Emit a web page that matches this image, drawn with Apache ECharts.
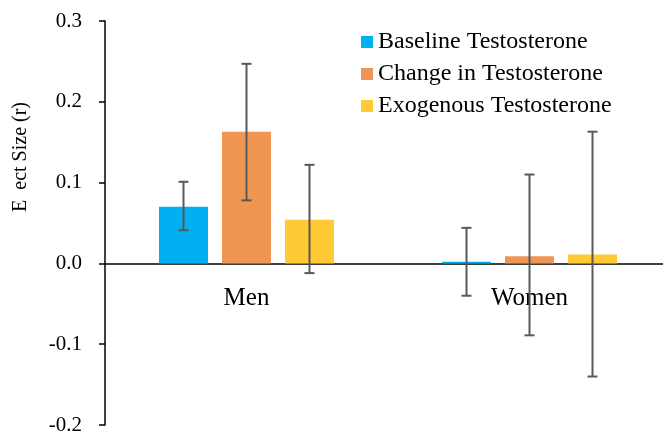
<!DOCTYPE html>
<html>
<head>
<meta charset="utf-8">
<script src="https://cdn.jsdelivr.net/npm/echarts@6/dist/echarts.min.js"></script>
<style>html,body{margin:0;padding:0;background:#fff}#c{width:663px;height:435px}</style>
</head>
<body>
<div id="c"></div>
<script>
var categories = ['Men', 'Women'];
var seriesNames = ['Baseline Testosterone', 'Change in Testosterone', 'Exogenous Testosterone'];
var baseline = [0.070, 0.002];
var change = [0.163, 0.009];
var exogenous = [0.054, 0.011];
var baselineErr = [[0.041, 0.101], [-0.040, 0.044]];
var changeErr = [[0.078, 0.247], [-0.089, 0.110]];
var exogenousErr = [[-0.012, 0.122], [-0.140, 0.163]];
var yTicks = [-0.2, -0.1, 0.0, 0.1, 0.2, 0.3];

var colors = ['#00B0F0', '#F09653', '#FFCA33'];
var values = [baseline, change, exogenous];
var errs = [baselineErr, changeErr, exogenousErr];
var font = '"Liberation Serif", "Times New Roman", serif';

var chart = echarts.init(document.getElementById('c'));
var series = [];
values.forEach(function (v, i) {
  series.push({
    name: seriesNames[i], type: 'bar', data: v, barWidth: 49, barGap: '28.6%',
    itemStyle: { color: colors[i] }, z: 2
  });
});
// category labels sitting just under the zero line
series.push({
  type: 'custom', z: 3, silent: true,
  data: categories.map(function (c, j) { return [j, 0]; }),
  encode: { x: 0, y: 1 },
  renderItem: function (params, api) {
    var p = api.coord([api.value(0), 0]);
    return { type: 'text', x: p[0], y: p[1] + 35, style: {
      text: categories[params.dataIndex], font: '25px ' + font, fill: '#000',
      align: 'center', verticalAlign: 'middle' } };
  }
});
errs.forEach(function (e, i) {
  series.push({
    type: 'custom', z: 5, silent: true,
    data: e.map(function (d, j) { return [j, d[0], d[1]]; }),
    encode: { x: 0, y: [1, 2] },
    renderItem: function (params, api) {
      var band = api.size([1, 0])[0];
      var off = (i - 1) * band * (63 / 283);
      var lo = api.coord([api.value(0), api.value(1)]);
      var hi = api.coord([api.value(0), api.value(2)]);
      var x = lo[0] + off;
      var st = { stroke: '#595959', lineWidth: 2 };
      return { type: 'group', children: [
        { type: 'line', shape: { x1: x, y1: lo[1], x2: x, y2: hi[1] }, style: st },
        { type: 'line', shape: { x1: x - 5, y1: lo[1], x2: x + 5, y2: lo[1] }, style: st },
        { type: 'line', shape: { x1: x - 5, y1: hi[1], x2: x + 5, y2: hi[1] }, style: st }
      ]};
    }
  });
});

chart.setOption({
  animation: false,
  grid: { left: 105, top: 21, width: 566, bottom: 10, containLabel: false, outerBoundsMode: 'none' },
  legend: {
    data: seriesNames, orient: 'vertical', left: 356, top: 25,
    itemWidth: 12, itemHeight: 12, itemGap: 8, icon: 'rect',
    textStyle: { fontFamily: font, fontSize: 24, color: '#000' }
  },
  xAxis: {
    type: 'category', data: categories,
    axisLine: { onZero: true, lineStyle: { color: '#000', width: 1.5 } },
    axisTick: { show: false },
    axisLabel: { show: false }
  },
  yAxis: {
    type: 'value', min: -0.2, max: 0.3, interval: 0.1,
    axisLine: { show: true, lineStyle: { color: '#000', width: 1.5 } },
    axisTick: { show: true, inside: false, length: 6, lineStyle: { color: '#000', width: 1.5 } },
    splitLine: { show: false },
    axisLabel: {
      fontFamily: font, fontSize: 21, color: '#000', margin: 23,
      formatter: function (v) { var t = yTicks.find(function (k) { return Math.abs(k - v) < 1e-9; }); return (t !== undefined ? t : v).toFixed(1); }
    }
  },
  graphic: [{
    type: 'text', left: 11, top: 102, rotation: Math.PI / 2, originX: 0, originY: 0,
    style: { text: 'E  ect Size (r)', font: '20px ' + font, fill: '#000' }
  }],
  series: series
});
</script>
</body>
</html>
